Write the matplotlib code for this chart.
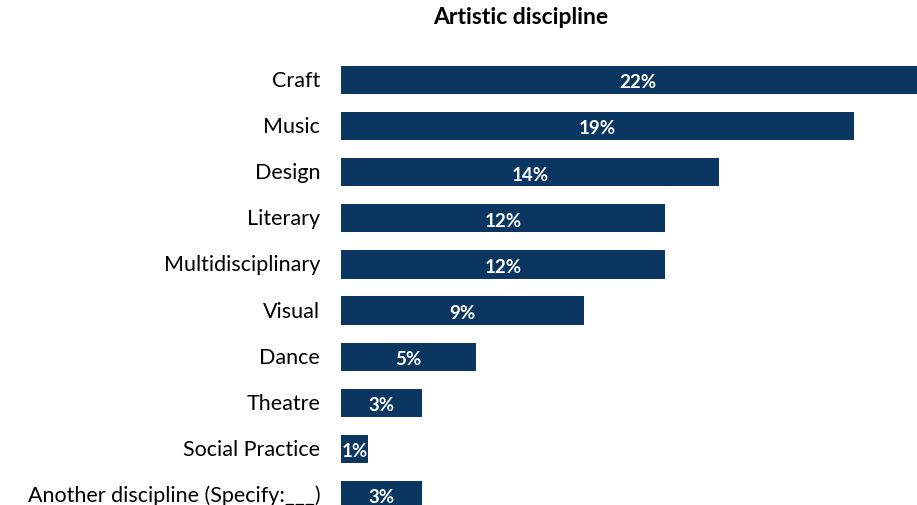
import matplotlib.pyplot as plt

plt.rcParams['font.family'] = ['Lato', 'DejaVu Sans']

categories = ['Craft', 'Music', 'Design', 'Literary', 'Multidisciplinary',
              'Visual', 'Dance', 'Theatre', 'Social Practice',
              'Another discipline (Specify:___)']
shares = [22, 19, 14, 12, 12, 9, 5, 3, 1, 3]

W, H = 917, 506
fig = plt.figure(figsize=(W / 100, H / 100), dpi=100)
# axes reaches the right edge so the longest bar runs off the figure
ax = fig.add_axes([341 / W, 0, 1 - 341 / W, 1])

pos = list(range(len(categories)))
ax.barh(pos, shares, height=0.61, color='#0a3661')

step = 46.1
ax.set_ylim(9 + (H - 496) / step, -81 / step)
ax.set_xlim(0, 576 / 27)

for y, v in zip(pos, shares):
    ax.text(v / 2, y + 0.04, f'{v}%', ha='center', va='center', color='white',
            fontsize=13.5, fontweight='bold', clip_on=False)

ax.set_yticks(pos)
ax.set_yticklabels(categories, fontsize=15.5, va='center')
ax.tick_params(axis='y', length=0, pad=15)
ax.set_xticks([])
for s in ax.spines.values():
    s.set_visible(False)

fig.text(521 / W, 1 - 18 / H, 'Artistic discipline', ha='center', va='center',
         fontsize=16.5, fontweight='bold')

fig.savefig('out.png', dpi=100)
